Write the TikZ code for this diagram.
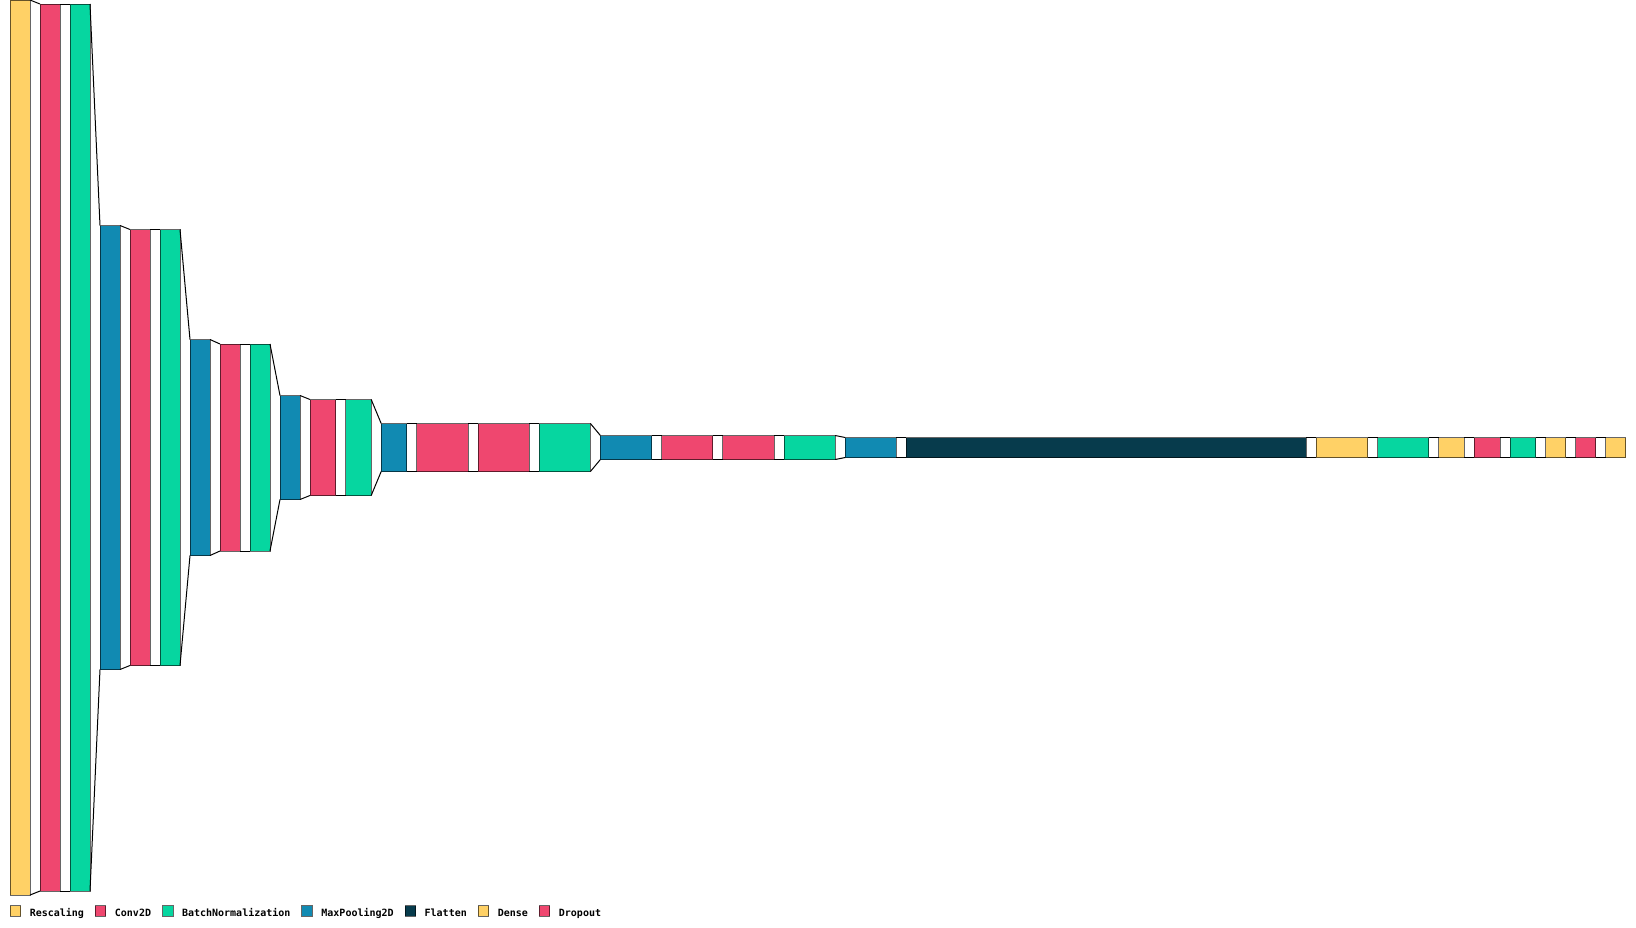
\documentclass[tikz,border=0pt]{standalone}
\usepackage{fontspec}
\newfontfamily\legendfont{DejaVu Sans Mono}
\usetikzlibrary{positioning}
\definecolor{cyellow}{HTML}{FFD166}
\definecolor{cred}{HTML}{EF476F}
\definecolor{cgreen}{HTML}{06D6A0}
\definecolor{cblue}{HTML}{118AB2}
\definecolor{cdark}{HTML}{073B4C}
\tikzset{
  layerbox/.style 2 args={rectangle, draw=black, draw opacity=0.6, line width=1pt,
    inner sep=0pt, outer sep=0pt, minimum width=#1pt, minimum height=#2pt},
  funnel/.style={draw=black, line width=1pt},
  legkey/.style={rectangle, draw=black, draw opacity=0.6, line width=1pt,
    inner sep=0pt, outer sep=0pt, minimum size=10.5pt},
  legtext/.style={inner sep=0pt, outer sep=0pt, text height=10pt, text depth=0pt,
    font=\legendfont\bfseries\fontsize{10}{12}\selectfont}
}
\begin{document}
\begin{tikzpicture}[x=1pt, y=-1pt]
  \useasboundingbox[fill=white] (0,0) rectangle (1636,927);

  % layers
  \node[layerbox={20}{895}, fill=cyellow] (l1) at (20,447.5) {};
  \node[layerbox={20}{887}, fill=cred, right=10pt of l1] (l2) {};
  \node[layerbox={20}{887}, fill=cgreen, right=10pt of l2] (l3) {};
  \node[layerbox={20}{444}, fill=cblue, right=10pt of l3] (l4) {};
  \node[layerbox={20}{436}, fill=cred, right=10pt of l4] (l5) {};
  \node[layerbox={20}{436}, fill=cgreen, right=10pt of l5] (l6) {};
  \node[layerbox={20}{216}, fill=cblue, right=10pt of l6] (l7) {};
  \node[layerbox={20}{207}, fill=cred, right=10pt of l7] (l8) {};
  \node[layerbox={20}{207}, fill=cgreen, right=10pt of l8] (l9) {};
  \node[layerbox={20}{104}, fill=cblue, right=10pt of l9] (l10) {};
  \node[layerbox={25.6}{96}, fill=cred, right=10pt of l10] (l11) {};
  \node[layerbox={25.6}{96}, fill=cgreen, right=10pt of l11] (l12) {};
  \node[layerbox={25.6}{48}, fill=cblue, right=10pt of l12] (l13) {};
  \node[layerbox={51.2}{48}, fill=cred, right=10pt of l13] (l14) {};
  \node[layerbox={51.2}{48}, fill=cred, right=10pt of l14] (l15) {};
  \node[layerbox={51.2}{48}, fill=cgreen, right=10pt of l15] (l16) {};
  \node[layerbox={51.2}{24}, fill=cblue, right=10pt of l16] (l17) {};
  \node[layerbox={51.2}{24}, fill=cred, right=10pt of l17] (l18) {};
  \node[layerbox={51.2}{24}, fill=cred, right=10pt of l18] (l19) {};
  \node[layerbox={51.2}{24}, fill=cgreen, right=10pt of l19] (l20) {};
  \node[layerbox={51.2}{20}, fill=cblue, right=10pt of l20] (l21) {};
  \node[layerbox={400}{20}, fill=cdark, right=10pt of l21] (l22) {};
  \node[layerbox={51.2}{20}, fill=cyellow, right=10pt of l22] (l23) {};
  \node[layerbox={51.2}{20}, fill=cgreen, right=10pt of l23] (l24) {};
  \node[layerbox={25.6}{20}, fill=cyellow, right=10pt of l24] (l25) {};
  \node[layerbox={25.6}{20}, fill=cred, right=10pt of l25] (l26) {};
  \node[layerbox={25.6}{20}, fill=cgreen, right=10pt of l26] (l27) {};
  \node[layerbox={20}{20}, fill=cyellow, right=10pt of l27] (l28) {};
  \node[layerbox={20}{20}, fill=cred, right=10pt of l28] (l29) {};
  \node[layerbox={20}{20}, fill=cyellow, right=10pt of l29] (l30) {};

  % funnels between layers
  \foreach \i [evaluate=\i as \j using int(\i+1)] in {1,...,29}
    \draw[funnel] (l\i.north east) -- (l\j.north west) (l\i.south east) -- (l\j.south west);

  % legend
  \node[legkey, fill=cyellow] (k1) at (15.5,911) {};
  \node[legtext, right=9pt of k1] (t1) {Rescaling};
  \node[legkey, fill=cred, right=11.5pt of t1] (k2) {};
  \node[legtext, right=9pt of k2] (t2) {Conv2D};
  \node[legkey, fill=cgreen, right=11.5pt of t2] (k3) {};
  \node[legtext, right=9pt of k3] (t3) {BatchNormalization};
  \node[legkey, fill=cblue, right=11.5pt of t3] (k4) {};
  \node[legtext, right=9pt of k4] (t4) {MaxPooling2D};
  \node[legkey, fill=cdark, right=11.5pt of t4] (k5) {};
  \node[legtext, right=9pt of k5] (t5) {Flatten};
  \node[legkey, fill=cyellow, right=11.5pt of t5] (k6) {};
  \node[legtext, right=9pt of k6] (t6) {Dense};
  \node[legkey, fill=cred, right=11.5pt of t6] (k7) {};
  \node[legtext, right=9pt of k7] (t7) {Dropout};
\end{tikzpicture}
\end{document}
